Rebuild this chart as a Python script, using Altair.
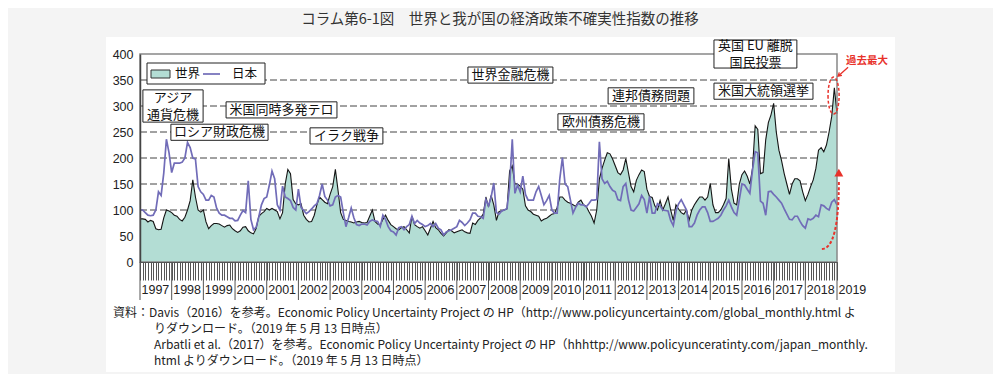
import altair as alt
import pandas as pd

# ---- monthly index values (Jan..Dec of each year) ----
WORLD_1997 = [83, 83, 82, 77, 80, 78, 64, 62, 63, 85, 100, 98]
WORLD_1998 = [95, 90, 88, 82, 79, 86, 100, 118, 158, 125, 100, 96]
WORLD_1999 = [100, 77, 64, 70, 74, 74, 73, 70, 67, 70, 71, 64]
WORLD_2000 = [60, 57, 60, 67, 68, 60, 56, 54, 65, 88, 93, 97]
WORLD_2001 = [103, 100, 103, 100, 97, 83, 95, 150, 178, 170, 120, 112]
WORLD_2002 = [110, 112, 90, 82, 77, 78, 90, 110, 125, 120, 115, 112]
WORLD_2003 = [130, 145, 178, 138, 95, 82, 80, 78, 77, 75, 77, 78]
WORLD_2004 = [76, 75, 76, 88, 100, 78, 73, 71, 82, 90, 80, 72]
WORLD_2005 = [68, 64, 62, 66, 68, 62, 56, 88, 72, 68, 65, 68]
WORLD_2006 = [60, 52, 65, 78, 66, 62, 55, 50, 56, 62, 60, 56]
WORLD_2007 = [58, 60, 62, 58, 56, 55, 75, 72, 80, 85, 92, 125]
WORLD_2008 = [106, 128, 110, 80, 97, 98, 100, 102, 175, 185, 150, 150]
WORLD_2009 = [146, 140, 108, 100, 97, 92, 90, 88, 79, 82, 84, 88]
WORLD_2010 = [92, 93, 105, 125, 125, 119, 115, 113, 110, 107, 115, 119]
WORLD_2011 = [110, 107, 97, 88, 75, 100, 160, 180, 196, 210, 208, 198]
WORLD_2012 = [185, 172, 168, 177, 199, 172, 145, 135, 157, 168, 177, 174]
WORLD_2013 = [140, 126, 124, 108, 100, 118, 100, 112, 125, 100, 80, 110]
WORLD_2014 = [102, 95, 92, 100, 81, 100, 110, 118, 125, 125, 119, 125]
WORLD_2015 = [151, 110, 95, 95, 100, 110, 122, 199, 140, 113, 110, 150]
WORLD_2016 = [168, 175, 165, 150, 180, 262, 255, 170, 172, 235, 268, 283]
WORLD_2017 = [305, 250, 215, 195, 170, 150, 130, 150, 160, 160, 156, 135]
WORLD_2018 = [118, 130, 145, 158, 180, 215, 220, 212, 225, 250, 280, 335]
WORLD_2019 = [285]

JAPAN_1997 = [100, 100, 95, 90, 89, 90, 100, 135, 128, 171, 236, 210]
JAPAN_1998 = [172, 190, 190, 190, 192, 200, 230, 220, 200, 198, 145, 135]
JAPAN_1999 = [130, 119, 119, 128, 125, 104, 94, 90, 90, 87, 84, 84]
JAPAN_2000 = [79, 80, 90, 99, 95, 156, 82, 62, 67, 87, 110, 122]
JAPAN_2001 = [125, 148, 175, 160, 110, 100, 146, 125, 122, 118, 105, 100]
JAPAN_2002 = [140, 105, 99, 93, 97, 102, 108, 112, 128, 150, 126, 119]
JAPAN_2003 = [108, 110, 125, 128, 125, 95, 68, 85, 104, 85, 72, 70]
JAPAN_2004 = [73, 73, 71, 78, 81, 79, 78, 68, 90, 82, 68, 60]
JAPAN_2005 = [58, 52, 66, 68, 62, 68, 72, 88, 74, 80, 75, 72]
JAPAN_2006 = [68, 70, 74, 68, 74, 65, 62, 52, 58, 60, 62, 65]
JAPAN_2007 = [68, 80, 76, 70, 75, 81, 94, 94, 88, 87, 84, 120]
JAPAN_2008 = [108, 125, 152, 95, 92, 98, 100, 103, 145, 236, 132, 148]
JAPAN_2009 = [135, 165, 130, 119, 119, 119, 135, 145, 128, 110, 118, 128]
JAPAN_2010 = [100, 94, 94, 160, 201, 150, 145, 120, 94, 105, 113, 110]
JAPAN_2011 = [110, 106, 112, 119, 119, 120, 231, 160, 151, 155, 145, 138]
JAPAN_2012 = [135, 120, 118, 145, 151, 120, 100, 98, 105, 112, 128, 120]
JAPAN_2013 = [94, 126, 94, 94, 112, 108, 100, 99, 98, 80, 70, 98]
JAPAN_2014 = [112, 120, 110, 100, 68, 68, 75, 90, 100, 106, 106, 95]
JAPAN_2015 = [78, 78, 81, 84, 90, 100, 108, 119, 106, 95, 90, 120]
JAPAN_2016 = [150, 148, 140, 132, 177, 212, 210, 117, 113, 90, 135, 136]
JAPAN_2017 = [130, 125, 119, 113, 102, 92, 82, 81, 88, 88, 78, 70]
JAPAN_2018 = [65, 83, 81, 84, 90, 87, 110, 108, 103, 100, 115, 120]
JAPAN_2019 = [110]

FIRST_YEAR = 1997
LAST_YEAR = 2019
Y_TICKS = [0, 50, 100, 150, 200, 250, 300, 350, 400]
GRID_VALUES = [50, 100, 150, 200, 250, 300, 350]
SERIES_NAMES = ["世界", "日本"]

TITLE = "コラム第6-1図　世界と我が国の経済政策不確実性指数の推移"
NOTES = [
    "資料：Davis（2016）を参考。Economic Policy Uncertainty Project の HP（http://www.policyuncertainty.com/global_monthly.html よ",
    "りダウンロード。（2019 年 5 月 13 日時点）",
    "Arbatli et al.（2017）を参考。Economic Policy Uncertainty Project の HP（hhhttp://www.policyunceratinty.com/japan_monthly.",
    "html よりダウンロード。（2019 年 5 月 13 日時点）",
]

EVENT_LABELS = [
    ["アジア", "通貨危機"],
    ["ロシア財政危機"],
    ["米国同時多発テロ"],
    ["イラク戦争"],
    ["世界金融危機"],
    ["欧州債務危機"],
    ["連邦債務問題"],
    ["英国 EU 離脱", "国民投票"],
    ["米国大統領選挙"],
]
# annotation box placement in data units: (month from, month to, value from, value to)
EVENT_BOXES = [
    (1.1, 23.9, 269, 331),
    (11.7, 48.5, 234, 265),
    (32.6, 74.6, 277, 308),
    (64.4, 92.0, 227, 258),
    (124.2, 156.4, 344, 375),
    (158.3, 190.9, 254, 285),
    (177.3, 209.8, 304, 335),
    (217.4, 248.8, 373, 427),
    (217.4, 254.9, 313, 344),
]
PEAK_NOTE = "過去最大"

# ---- build the table ----
world = (WORLD_1997 + WORLD_1998 + WORLD_1999 + WORLD_2000 + WORLD_2001 + WORLD_2002
         + WORLD_2003 + WORLD_2004 + WORLD_2005 + WORLD_2006 + WORLD_2007 + WORLD_2008
         + WORLD_2009 + WORLD_2010 + WORLD_2011 + WORLD_2012 + WORLD_2013 + WORLD_2014
         + WORLD_2015 + WORLD_2016 + WORLD_2017 + WORLD_2018 + WORLD_2019)
japan = (JAPAN_1997 + JAPAN_1998 + JAPAN_1999 + JAPAN_2000 + JAPAN_2001 + JAPAN_2002
         + JAPAN_2003 + JAPAN_2004 + JAPAN_2005 + JAPAN_2006 + JAPAN_2007 + JAPAN_2008
         + JAPAN_2009 + JAPAN_2010 + JAPAN_2011 + JAPAN_2012 + JAPAN_2013 + JAPAN_2014
         + JAPAN_2015 + JAPAN_2016 + JAPAN_2017 + JAPAN_2018 + JAPAN_2019)
months = list(range(len(world)))
df = pd.DataFrame({"m": months, "world": world, "japan": japan})
year_starts = pd.DataFrame({"m": [12 * (y - FIRST_YEAR) for y in range(FIRST_YEAR, LAST_YEAR + 1)]})
grid_df = pd.DataFrame({"v": GRID_VALUES})

W, H = 697, 208
PX_PER_VALUE = H / 400.0
LINE_GAP = 17 / PX_PER_VALUE

box_rows, text_rows = [], []
for lines, (m0, m1, v0, v1) in zip(EVENT_LABELS, EVENT_BOXES):
    box_rows.append({"m0": m0, "m1": m1, "v0": v0, "v1": v1})
    mc, vc = (m0 + m1) / 2, (v0 + v1) / 2
    n = len(lines)
    for i, t in enumerate(lines):
        text_rows.append({"m": mc, "v": vc + ((n - 1) / 2 - i) * LINE_GAP, "t": t})
box_df = pd.DataFrame(box_rows)
ev_text_df = pd.DataFrame(text_rows)

TEAL = "#b3ddd4"
PURPLE = "#716cb8"
RED = "#e8322b"
JP_FONT = "Noto Sans CJK JP"
NUM_FONT = "Liberation Sans"

XS = alt.Scale(domain=[0, months[-1]], nice=False, zero=False)
YS = alt.Scale(domain=[0, 400], nice=False)

x_axis = alt.Axis(
    values=months, title=None, grid=False, zindex=1,
    tickSize=18, tickColor="#555", tickWidth=1, domainColor="#555", domainWidth=1,
    labelExpr=f"datum.value % 12 == 0 ? '' + ({FIRST_YEAR} + datum.value / 12) : ''",
    labelAlign="left", labelBaseline="top", labelOffset=1, labelPadding=3,
    labelOverlap=False, labelFlush=False, labelFont=NUM_FONT, labelFontSize=12.5,
    labelColor="#222",
)
y_axis = alt.Axis(
    values=Y_TICKS, title=None, grid=False, zindex=1, ticks=False,
    domainColor="#444", domainWidth=1.5, labelPadding=7,
    labelFont=NUM_FONT, labelFontSize=12.5, labelColor="#222",
)


def X(f):
    return alt.X(f, type="quantitative", scale=XS, axis=x_axis)


def Y(f):
    return alt.Y(f, type="quantitative", scale=YS, axis=y_axis)


one = pd.DataFrame({"d": [0]})

panel = alt.Chart(one).mark_rect(fill="white").encode(
    x=alt.value(-34), x2=alt.value(755), y=alt.value(-17), y2=alt.value(318))

grid = alt.Chart(grid_df).mark_rule(color="#444", strokeWidth=1, strokeDash=[7, 3]).encode(y=Y("v"))

area = alt.Chart(df).mark_area(color=TEAL).encode(x=X("m"), y=Y("world"))
world_line = alt.Chart(df).mark_line(color="#151515", strokeWidth=1.1).encode(x=X("m"), y=Y("world"))
japan_line = alt.Chart(df).mark_line(color=PURPLE, strokeWidth=1.7).encode(x=X("m"), y=Y("japan"))

frame = alt.Chart(one).mark_rect(fillOpacity=0, stroke="#888", strokeWidth=1.5).encode(
    x=alt.value(0), x2=alt.value(W), y=alt.value(0), y2=alt.value(H))

year_sep = alt.Chart(year_starts).mark_rule(color="#555", strokeWidth=1).encode(
    x=X("m"), y=alt.value(H), y2=alt.value(H + 38))

ev_boxes = alt.Chart(box_df).mark_rect(fill="white", stroke="#222", strokeWidth=1).encode(
    x=X("m0"), x2="m1:Q", y=Y("v0"), y2="v1:Q")
ev_text = alt.Chart(ev_text_df).mark_text(font=JP_FONT, fontSize=13, color="#111",
                                          baseline="middle", align="center").encode(
    x=X("m"), y=Y("v"), text="t:N")

# legend
leg_frame = alt.Chart(one).mark_rect(fill="white", stroke="#222", strokeWidth=1).encode(
    x=alt.value(7), x2=alt.value(125), y=alt.value(9), y2=alt.value(30))
leg_swatch = alt.Chart(one).mark_rect(fill=TEAL, stroke="#333", strokeWidth=1).encode(
    x=alt.value(11), x2=alt.value(30), y=alt.value(16), y2=alt.value(24))
leg_line = alt.Chart(one).mark_rule(color=PURPLE, strokeWidth=1.7).encode(
    x=alt.value(63), x2=alt.value(80), y=alt.value(20))
leg_t1 = alt.Chart(pd.DataFrame({"t": [SERIES_NAMES[0]]})).mark_text(
    font=JP_FONT, fontSize=12.5, align="left", baseline="middle", color="#111").encode(
    x=alt.value(35), y=alt.value(20), text="t:N")
leg_t2 = alt.Chart(pd.DataFrame({"t": [SERIES_NAMES[1]]})).mark_text(
    font=JP_FONT, fontSize=12.5, align="left", baseline="middle", color="#111").encode(
    x=alt.value(92), y=alt.value(20), text="t:N")

# red highlight of the latest maximum
ELLIPSE = "M -0.3 0 A 0.3 1 0 1 0 0.3 0 A 0.3 1 0 1 0 -0.3 0"
CURVE = "M -0.2 0.9 Q 0.225 0.88 0.225 -0.8"
SMALL_ARROW = "M 0.625 -0.56 L -0.625 0.56 M -0.14 0.46 L -0.625 0.56 L -0.47 0.09"
red_ellipse = alt.Chart(pd.DataFrame({"m": [262.7], "v": [320]})).mark_point(
    shape=ELLIPSE, size=1369, filled=False, stroke=RED, strokeWidth=1.5, strokeDash=[3, 2], opacity=1).encode(
    x=X("m"), y=Y("v"))
red_curve = alt.Chart(pd.DataFrame({"m": [261.3], "v": [94]})).mark_point(
    shape=CURVE, size=6400, filled=False, stroke=RED, strokeWidth=2, strokeDash=[3, 2], opacity=1).encode(
    x=X("m"), y=Y("v"))
red_head = alt.Chart(pd.DataFrame({"m": [264.7], "v": [172]})).mark_point(
    shape="triangle-up", size=80, filled=True, color=RED, opacity=1).encode(x=X("m"), y=Y("v"))
red_arrow = alt.Chart(pd.DataFrame({"m": [266.3], "v": [366]})).mark_point(
    shape=SMALL_ARROW, size=256, filled=False, stroke=RED, strokeWidth=1.3, opacity=1).encode(
    x=X("m"), y=Y("v"))
red_text = alt.Chart(pd.DataFrame({"m": [275.4], "v": [386], "t": [PEAK_NOTE]})).mark_text(
    font=JP_FONT, fontSize=10.5, fontWeight="bold", color=RED, align="center", baseline="middle").encode(
    x=X("m"), y=Y("v"), text="t:N")

title = alt.Chart(pd.DataFrame({"t": [TITLE]})).mark_text(
    font=JP_FONT, fontSize=14.5, color="#333", align="center", baseline="middle").encode(
    x=alt.value(360), y=alt.value(-34), text="t:N")

note_layers = []
NOTE_X = [-27, 14, 14, 14]
NOTE_Y = [259, 275, 291, 307]
for t, nx, ny in zip(NOTES, NOTE_X, NOTE_Y):
    note_layers.append(alt.Chart(pd.DataFrame({"t": [t]})).mark_text(
        font=JP_FONT, fontSize=12, color="#222", align="left", baseline="middle").encode(
        x=alt.value(nx), y=alt.value(ny), text="t:N"))

chart = alt.layer(
    panel, grid, area, world_line, japan_line, frame, year_sep,
    ev_boxes, ev_text, leg_frame, leg_swatch, leg_line, leg_t1, leg_t2,
    red_ellipse, red_curve, red_head, red_arrow, red_text, title, *note_layers,
).properties(
    width=W, height=H,
    padding={"left": 132, "top": 46, "right": 156, "bottom": 112},
    autosize=alt.AutoSizeParams(type="none"),
    background="#f4f4f4",
).configure_view(strokeWidth=0)

chart.save("out.html", embed_options={"renderer": "svg", "actions": False})
